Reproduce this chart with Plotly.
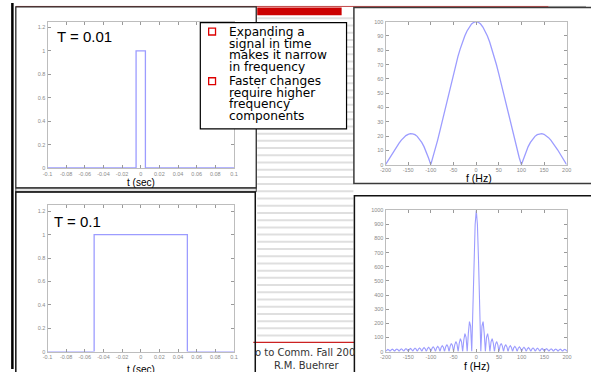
import plotly.graph_objects as go

# ---------------- data ----------------
# time-domain pulses
T_SHORT_T = [-0.1, -0.005, -0.005, 0.005, 0.005, 0.1]
T_SHORT_Y = [0, 0, 1, 1, 0, 0]
T_LONG_T = [-0.1, -0.05, -0.05, 0.05, 0.05, 0.1]
T_LONG_Y = [0, 0, 1, 1, 0, 0]

# spectrum of the short pulse (T = 0.01), positive half
F_TOP_HALF = [0, 5, 10, 15, 20, 25, 30, 35, 40, 45, 50, 55, 60, 65, 70, 75, 80,
              85, 90, 95, 100, 105, 110, 115, 120, 125, 130, 135, 140, 145, 150,
              155, 160, 165, 170, 175, 180, 185, 190, 195, 200]
MAG_TOP_HALF = [100, 99.6, 98.4, 96.3, 93.5, 90.0, 85.8, 81.0, 75.7, 69.9, 63.7,
                57.2, 50.5, 43.6, 36.8, 30.0, 23.4, 17.0, 10.9, 5.2, 0, 4.7, 8.9,
                12.6, 15.6, 18.0, 19.8, 21.0, 21.6, 21.7, 21.2, 20.3, 18.9, 17.2,
                15.1, 12.9, 10.4, 7.8, 5.2, 2.6, 0]

# spectrum of the long pulse (T = 0.1), positive half
F_BOT_HALF = [0, 2.5, 5, 7.5, 10, 12.5, 15, 17.5, 20, 22.5, 25, 27.5, 30, 32.5,
              35, 37.5, 40, 42.5, 45, 47.5, 50, 52.5, 55, 57.5, 60, 62.5, 65,
              67.5, 70, 72.5, 75, 77.5, 80, 82.5, 85, 87.5, 90, 92.5, 95, 97.5,
              100, 102.5, 105, 107.5, 110, 112.5, 115, 117.5, 120, 122.5, 125,
              127.5, 130, 132.5, 135, 137.5, 140, 142.5, 145, 147.5, 150, 152.5,
              155, 157.5, 160, 162.5, 165, 167.5, 170, 172.5, 175, 177.5, 180,
              182.5, 185, 187.5, 190, 192.5, 195, 197.5, 200]
MAG_BOT_HALF = [1000, 900, 637, 300, 0, 180, 212, 129, 0, 100, 127, 82, 0, 69, 91,
                60, 0, 53, 71, 47, 0, 43, 58, 39, 0, 36, 49, 33, 0, 31, 42, 29, 0,
                27, 37, 26, 0, 24, 34, 23, 0, 22, 30, 21, 0, 20, 28, 19, 0, 18, 26,
                18, 0, 17, 24, 16, 0, 16, 22, 15, 0, 15, 21, 14, 0, 14, 19, 13, 0,
                13, 18, 13, 0, 12, 17, 12, 0, 12, 16, 11, 0]

# ticks
T_TICKS = [-0.1, -0.08, -0.06, -0.04, -0.02, 0, 0.02, 0.04, 0.06, 0.08, 0.1]
T_TICK_TEXT = ["-0.1", "-0.08", "-0.06", "-0.04", "-0.02", "0", "0.02", "0.04",
               "0.06", "0.08", "0.1"]
AMP_TICKS = [0, 0.2, 0.4, 0.6, 0.8, 1, 1.2]
AMP_TICK_TEXT = ["0", "0.2", "0.4", "0.6", "0.8", "1", "1.2"]
F_TICKS = [-200, -150, -100, -50, 0, 50, 100, 150, 200]
F_TICK_TEXT = ["-200", "-150", "-100", "-50", "0", "50", "100", "150", "200"]
MAG1_TICKS = [0, 10, 20, 30, 40, 50, 60, 70, 80, 90, 100]
MAG1_TICK_TEXT = [str(v) for v in MAG1_TICKS]
MAG2_TICKS = [0, 100, 200, 300, 400, 500, 600, 700, 800, 900, 1000]
MAG2_TICK_TEXT = [str(v) for v in MAG2_TICKS]

BULLETS = [["Expanding a", "signal in time", "makes it narrow", "in frequency"],
           ["Faster changes", "require higher", "frequency", "components"]]


def mirror(f_half, m_half):
    f = [-v for v in reversed(f_half[1:])] + list(f_half)
    m = list(reversed(m_half[1:])) + list(m_half)
    return f, m


F_TOP, MAG_TOP = mirror(F_TOP_HALF, MAG_TOP_HALF)
F_BOT, MAG_BOT = mirror(F_BOT_HALF, MAG_BOT_HALF)

# ---------------- layout helpers ----------------
W, H = 591, 372


def px(x):
    return x / W


def py(y):
    return 1 - y / H


BLUE = "#9c9cff"
LINE = dict(color=BLUE, width=1.3)

fig = go.Figure()
fig.add_trace(go.Scatter(x=T_SHORT_T, y=T_SHORT_Y, mode="lines", line=LINE,
                         xaxis="x", yaxis="y", hoverinfo="skip", showlegend=False))
fig.add_trace(go.Scatter(x=F_TOP, y=MAG_TOP, mode="lines", line=LINE,
                         xaxis="x2", yaxis="y2", hoverinfo="skip", showlegend=False))
fig.add_trace(go.Scatter(x=T_LONG_T, y=T_LONG_Y, mode="lines", line=LINE,
                         xaxis="x3", yaxis="y3", hoverinfo="skip", showlegend=False))
fig.add_trace(go.Scatter(x=F_BOT, y=MAG_BOT, mode="lines", line=dict(color=BLUE, width=1.1),
                         xaxis="x4", yaxis="y4", hoverinfo="skip", showlegend=False))

AX = dict(showgrid=False, zeroline=False, showline=True, mirror="ticks",
          linecolor="#bdbdbd", linewidth=1, ticks="inside", ticklen=3,
          tickcolor="#9a9a9a", tickwidth=1,
          tickfont=dict(size=5.5, color="#8a8a8a", family="Liberation Sans"),
          fixedrange=True)


def axis(domain, anchor, rng, vals, text):
    d = dict(AX)
    d.update(domain=domain, anchor=anchor, range=rng, tickmode="array",
             tickvals=vals, ticktext=text)
    return d


p1 = ([px(42.3), px(232.3)], [py(167.7), py(19)])
p2 = ([px(386.7), px(571.3)], [py(164.3), py(19)])
p3 = ([px(42.3), px(232.3)], [py(354.3), py(205.7)])
p4 = ([px(386.7), px(571.7)], [py(354.3), py(210.7)])

layout = dict(
    width=W, height=H, margin=dict(l=0, r=0, t=0, b=0),
    paper_bgcolor="white", plot_bgcolor="white", showlegend=False,
    xaxis=axis(p1[0], "y", [-0.1, 0.1], T_TICKS, T_TICK_TEXT),
    yaxis=axis(p1[1], "x", [0, 1.25], AMP_TICKS, AMP_TICK_TEXT),
    xaxis2=axis(p2[0], "y2", [-200, 200], F_TICKS, F_TICK_TEXT),
    yaxis2=axis(p2[1], "x2", [0, 100], MAG1_TICKS, MAG1_TICK_TEXT),
    xaxis3=axis(p3[0], "y3", [-0.1, 0.1], T_TICKS, T_TICK_TEXT),
    yaxis3=axis(p3[1], "x3", [0, 1.25], AMP_TICKS, AMP_TICK_TEXT),
    xaxis4=axis(p4[0], "y4", [-200, 200], F_TICKS, F_TICK_TEXT),
    yaxis4=axis(p4[1], "x4", [0, 1000], MAG2_TICKS, MAG2_TICK_TEXT),
)

shapes = []


def sline(x0, y0, x1, y1, color, width, layer="below"):
    shapes.append(dict(type="line", xref="paper", yref="paper",
                       x0=px(x0), y0=py(y0), x1=px(x1), y1=py(y1),
                       line=dict(color=color, width=width), layer=layer))


def srect(x0, y0, x1, y1, line_color, width, fill="rgba(0,0,0,0)", layer="below"):
    shapes.append(dict(type="rect", xref="paper", yref="paper",
                       x0=px(x0), y0=py(y0), x1=px(x1), y1=py(y1),
                       line=dict(color=line_color, width=width),
                       fillcolor=fill, layer=layer))


# background stripes of the slide (middle column)
yy = 15.5
while yy < 342:
    sline(256, yy, 354, yy, "#dfdfdf", 2)
    yy += 7.33
# title bar remnants
srect(256, 4.5, 342, 12.5, "rgba(0,0,0,0)", 0, fill="#cc0000")
sline(10, 3.5, 553, 3.5, "#c04848", 1)
sline(553, 3.5, 591, 3.5, "#aaaaaa", 1)
# footer red line
sline(252, 345, 355, 345, "#cc2222", 1.2)
# left thick border
sline(6.5, 0, 6.5, 372, "#000000", 2.5)
# gray band between left panels
srect(10, 188, 255, 192, "#444444", 1, fill="#e2e2e2")
# panel frames
srect(10, 4, 255, 188, "#2a2a2a", 1.3)
srect(10, 192, 254, 395, "#111111", 1.5)
srect(354.5, 4.5, 620, 183.5, "#3a3a3a", 1.5)
srect(355, 196, 620, 395, "#111111", 1.5)
# text box and bullets
srect(198, 20, 347, 128, "#000000", 1.2, fill="white", layer="above")
srect(206.5, 25.5, 213.5, 32.5, "#dd0000", 1.3, fill="white", layer="above")
srect(206.5, 76, 213.5, 83, "#dd0000", 1.3, fill="white", layer="above")

layout["shapes"] = shapes

ann = []


def text(x, y, s, size, family, color="black", xanchor="left", yanchor="middle"):
    ann.append(dict(xref="paper", yref="paper", x=px(x), y=py(y), text=s,
                    showarrow=False, xanchor=xanchor, yanchor=yanchor,
                    font=dict(size=size, family=family, color=color),
                    borderpad=0))


text(51, 34, "T = 0.01", 15, "Liberation Sans")
text(48, 221.7, "T = 0.1", 15, "Liberation Sans")
text(137.3, 182, "t (sec)", 10, "Liberation Sans", xanchor="center")
text(137.3, 372.5, "t (sec)", 10, "Liberation Sans", xanchor="center")
text(481.5, 177.5, "f (Hz)", 10.5, "Liberation Sans", xanchor="center")
text(480, 369, "f (Hz)", 10.5, "Liberation Sans", xanchor="center")

ys = [[29.5, 41.3, 53.1, 64.9], [79.5, 91.3, 103.1, 114.9]]
for group, gy in zip(BULLETS, ys):
    for line, y in zip(group, gy):
        text(226, y, line, 12.2, "DejaVu Sans")

text(252.5, 355.6, "o to Comm. Fall 200", 10, "DejaVu Sans", color="#333333")
text(306, 361.5, "R.M. Buehrer", 10, "DejaVu Sans", color="#333333",
     xanchor="center", yanchor="top")

layout["annotations"] = ann
fig.update_layout(**layout)
fig.write_html(
    "out.html",
    config={"displayModeBar": False},
    post_script="document.body.style.margin='0';document.body.style.overflow='hidden';",
)
